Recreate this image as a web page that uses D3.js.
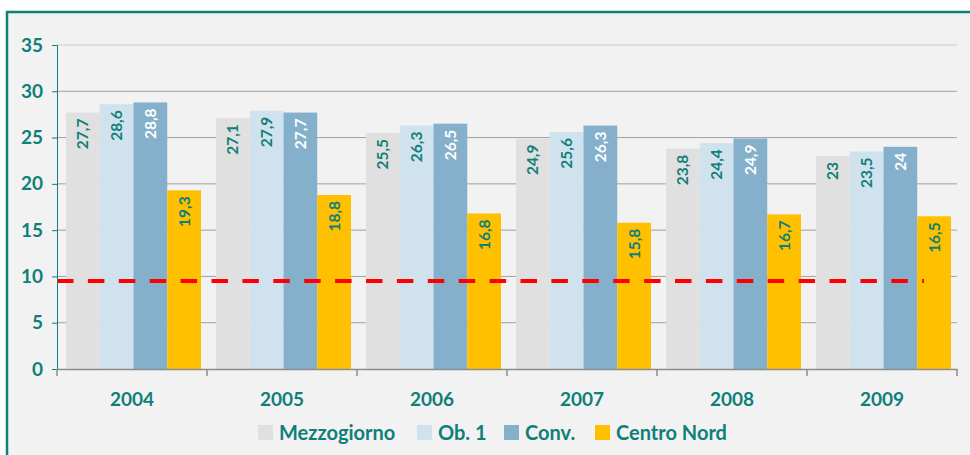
<!DOCTYPE html>
<html lang="en">
<head>
<meta charset="UTF-8">
<title>Mezzogiorno chart</title>
<script src="https://d3js.org/d3.v7.min.js"></script>
<style>
  body { margin: 0; background: #fff; }
  svg { display: block; font-family: Lato, "Open Sans", sans-serif; }
</style>
</head>
<body>
<script>
const years = ['2004', '2005', '2006', '2007', '2008', '2009']
const seriesNames = ['Mezzogiorno', 'Ob. 1', 'Conv.', 'Centro Nord']
const mezzogiorno = [27.7, 27.1, 25.5, 24.9, 23.8, 23]
const ob1 = [28.6, 27.9, 26.3, 25.6, 24.4, 23.5]
const conv = [28.8, 27.7, 26.5, 26.3, 24.9, 24]
const centroNord = [19.3, 18.8, 16.8, 15.8, 16.7, 16.5]
const targetValue = 9.5
const yTicks = [0, 5, 10, 15, 20, 25, 30, 35]

const colors = ['#e0e0e0', '#cfe2ee', '#85b0cb', '#ffc000']
const labelColors = ['#0f7f7a', '#0f7f7a', '#ffffff', '#0f7f7a']
const teal = '#0f7f7a'

const width = 970
const height = 455
const margin = { left: 57, right: 13, top: 45, bottom: 86 }

const svg = d3.select('body')
  .append('svg')
  .attr('width', width)
  .attr('height', height)

// frame
svg.append('rect')
  .attr('x', 7).attr('y', 12)
  .attr('width', width).attr('height', height)
  .attr('fill', '#f2f2f2')
  .attr('stroke', teal)
  .attr('stroke-width', 2.5)

const x = d3.scaleBand()
  .domain(years)
  .range([margin.left, width - margin.right])

const series = [mezzogiorno, ob1, conv, centroNord]
const xInner = d3.scaleBand()
  .domain(d3.range(series.length))
  .range([9, x.bandwidth() - 6])

const y = d3.scaleLinear()
  .domain([0, 35])
  .range([height - margin.bottom, margin.top])

// gridlines
svg.append('g')
  .selectAll('line')
  .data(yTicks.filter(d => d > 0))
  .enter()
  .append('line')
  .attr('x1', margin.left)
  .attr('x2', width - margin.right)
  .attr('y1', d => y(d))
  .attr('y2', d => y(d))
  .attr('stroke', d => d === 35 ? '#c8c8c8' : '#a0a0a0')
  .attr('stroke-width', 1)

// bars
const groups = svg.append('g')
  .selectAll('g')
  .data(years)
  .enter()
  .append('g')
  .attr('transform', d => `translate(${x(d)},0)`)

series.forEach((values, s) => {
  groups.append('rect')
    .attr('x', xInner(s))
    .attr('width', xInner.bandwidth())
    .attr('y', (d, i) => y(values[i]))
    .attr('height', (d, i) => y(0) - y(values[i]))
    .attr('fill', colors[s])

  groups.append('text')
    .attr('transform', (d, i) =>
      `translate(${xInner(s) + xInner.bandwidth() / 2 + 5.5},${y(values[i]) + 6}) rotate(-90)`)
    .attr('text-anchor', 'end')
    .attr('font-size', 15.5)
    .attr('font-weight', 'bold')
    .attr('fill', labelColors[s])
    .text((d, i) => String(values[i]).replace('.', ','))
})

// target line
svg.append('line')
  .attr('x1', margin.left)
  .attr('x2', 924)
  .attr('y1', y(targetValue))
  .attr('y2', y(targetValue))
  .attr('stroke', '#ff0000')
  .attr('stroke-width', 4)
  .attr('stroke-dasharray', '16.5,14.4')

// y axis
const yAxis = svg.append('g')
  .attr('transform', `translate(${margin.left},0)`)
  .call(d3.axisLeft(y).tickValues(yTicks).tickSize(5).tickPadding(9))
yAxis.select('.domain').attr('stroke', teal).attr('stroke-width', 1)
yAxis.selectAll('.tick line').attr('stroke', teal)
yAxis.selectAll('.tick text')
  .attr('fill', teal)
  .attr('font-size', 19)
  .attr('font-weight', 'bold')
  .attr('font-family', 'Lato, sans-serif')

// x axis
const xAxis = svg.append('g')
  .attr('transform', `translate(0,${y(0)})`)
  .call(d3.axisBottom(x).tickSize(0).tickPadding(24))
xAxis.select('.domain').attr('stroke', '#8c8c8c').attr('stroke-width', 1.5)
xAxis.selectAll('.tick text')
  .attr('fill', teal)
  .attr('font-size', 19)
  .attr('font-weight', 'bold')
  .attr('font-family', 'Lato, sans-serif')

// category separators
svg.append('g')
  .selectAll('line')
  .data(years.map(d => x(d)).concat([x(years[years.length - 1]) + x.bandwidth()]))
  .enter()
  .append('line')
  .attr('x1', d => d).attr('x2', d => d)
  .attr('y1', y(0)).attr('y2', y(0) + 7)
  .attr('stroke', '#8c8c8c')
  .attr('stroke-width', 1.5)

// legend
const legendX = [258, 417, 504, 595]
const legend = svg.append('g')
  .selectAll('g')
  .data(seriesNames)
  .enter()
  .append('g')
  .attr('transform', (d, i) => `translate(${legendX[i]},425)`)

legend.append('rect')
  .attr('width', 15)
  .attr('height', 15)
  .attr('fill', (d, i) => colors[i])

legend.append('text')
  .attr('x', 21)
  .attr('y', 15)
  .attr('font-size', 20)
  .attr('font-weight', 'bold')
  .attr('fill', teal)
  .text(d => d)
</script>
</body>
</html>
